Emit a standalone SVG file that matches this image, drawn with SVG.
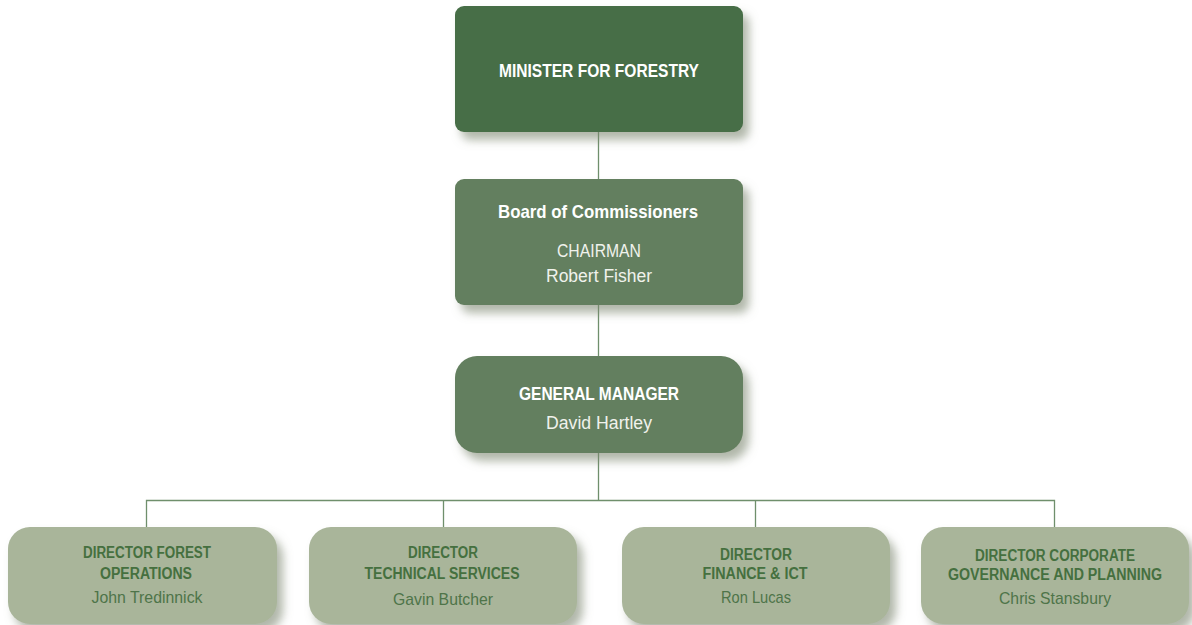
<svg xmlns="http://www.w3.org/2000/svg" width="1192" height="625" viewBox="0 0 1192 625">
  <defs>
    <filter id="shadow" x="-10%" y="-20%" width="130%" height="150%">
      <feDropShadow dx="6" dy="8" stdDeviation="5" flood-color="#7d866f" flood-opacity="0.6"/>
    </filter>
  </defs>
  <style>
    .top { fill: #466e46; }
    .mid { fill: #637f5e; }
    .low { fill: #a9b59a; }
    text { font-family: "Liberation Sans", Arial, sans-serif; text-anchor: middle; }
    .w { fill: #ffffff; }
    .wt { fill: #f0f2ec; }
    .h { font-weight: bold; font-size: 18.5px; }
    .s { font-size: 17.5px; }
    .dh { font-weight: bold; font-size: 16px; fill: #45703f; }
    .dn { font-size: 17px; fill: #4e7449; }
    .conn { stroke: #6f8f6c; stroke-width: 1.3; fill: none; }
  </style>

  <rect width="1192" height="625" fill="#ffffff"/>

  <!-- reporting lines -->
  <g id="connectors">
    <path class="conn" d="M598.5 132 V179 M598.5 305 V356 M598.5 453 V500.5"/>
    <path class="conn" d="M146.5 527 V500.5 H1054.5 V527 M443.5 500.5 V527 M755.5 500.5 V527"/>
  </g>

  <g id="minister">
    <rect class="top" x="455" y="6" width="288" height="126" rx="9" filter="url(#shadow)"/>
    <text class="h w" x="599" y="77" textLength="200" lengthAdjust="spacingAndGlyphs">MINISTER FOR FORESTRY</text>
  </g>

  <g id="board">
    <rect class="mid" x="455" y="179" width="288" height="126" rx="9" filter="url(#shadow)"/>
    <text class="h w" x="598" y="218" textLength="200" lengthAdjust="spacingAndGlyphs">Board of Commissioners</text>
    <text class="s wt" x="599" y="257" textLength="84" lengthAdjust="spacingAndGlyphs">CHAIRMAN</text>
    <text class="s wt" x="599" y="282" textLength="106" lengthAdjust="spacingAndGlyphs">Robert Fisher</text>
  </g>

  <g id="general-manager">
    <rect class="mid" x="455" y="356" width="288" height="97" rx="22" filter="url(#shadow)"/>
    <text class="h w" x="599" y="400" textLength="160" lengthAdjust="spacingAndGlyphs">GENERAL MANAGER</text>
    <text class="s wt" x="599" y="429" textLength="106" lengthAdjust="spacingAndGlyphs">David Hartley</text>
  </g>

  <g id="dir-forest-operations">
    <rect class="low" x="8" y="527" width="269" height="97" rx="22" filter="url(#shadow)"/>
    <text class="dh" x="147" y="558" textLength="128" lengthAdjust="spacingAndGlyphs">DIRECTOR FOREST</text>
    <text class="dh" x="146" y="579" textLength="92" lengthAdjust="spacingAndGlyphs">OPERATIONS</text>
    <text class="dn" x="147" y="603" textLength="111" lengthAdjust="spacingAndGlyphs">John Tredinnick</text>
  </g>

  <g id="dir-technical-services">
    <rect class="low" x="309" y="527" width="268" height="97" rx="22" filter="url(#shadow)"/>
    <text class="dh" x="443" y="558" textLength="70" lengthAdjust="spacingAndGlyphs">DIRECTOR</text>
    <text class="dh" x="442" y="579" textLength="155" lengthAdjust="spacingAndGlyphs">TECHNICAL SERVICES</text>
    <text class="dn" x="443" y="605" textLength="100" lengthAdjust="spacingAndGlyphs">Gavin Butcher</text>
  </g>

  <g id="dir-finance-ict">
    <rect class="low" x="622" y="527" width="268" height="97" rx="22" filter="url(#shadow)"/>
    <text class="dh" x="756" y="560" textLength="72" lengthAdjust="spacingAndGlyphs">DIRECTOR</text>
    <text class="dh" x="755" y="579" textLength="105" lengthAdjust="spacingAndGlyphs">FINANCE &amp; ICT</text>
    <text class="dn" x="756" y="603" textLength="70" lengthAdjust="spacingAndGlyphs">Ron Lucas</text>
  </g>

  <g id="dir-corporate-governance">
    <rect class="low" x="921" y="527" width="268" height="97" rx="22" filter="url(#shadow)"/>
    <text class="dh" x="1055" y="561" textLength="160" lengthAdjust="spacingAndGlyphs">DIRECTOR CORPORATE</text>
    <text class="dh" x="1055" y="580" textLength="214" lengthAdjust="spacingAndGlyphs">GOVERNANCE AND PLANNING</text>
    <text class="dn" x="1055" y="604" textLength="112" lengthAdjust="spacingAndGlyphs">Chris Stansbury</text>
  </g>
</svg>
